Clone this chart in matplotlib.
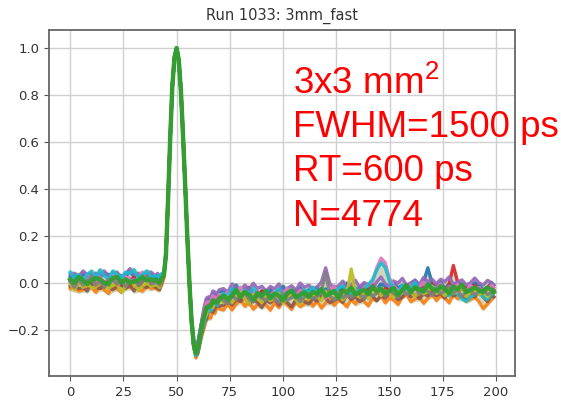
import matplotlib
matplotlib.use('Agg')
import matplotlib.pyplot as plt
import numpy as np

plt.rcParams['mathtext.fontset'] = 'custom'
plt.rcParams['mathtext.rm'] = 'Liberation Sans'

# sample index (coarser outside the pulse)
t = list(range(0, 41, 2)) + list(range(41, 71)) + list(range(72, 199, 2)) + [199]

# average normalised waveform
mean_wave = (
    [0.005, 0.0, 0.005, 0.0, 0.005, 0.01, 0.0, 0.005, 0.0, 0.005, 0.01,
     0.005, 0.0, 0.005, 0.01, 0.005, 0.0, 0.005, 0.01, 0.005, 0.0]
    + [0.0, 0.0, 0.01, 0.03, 0.12, 0.36, 0.62, 0.84, 0.96, 1.0,
       0.95, 0.82, 0.63, 0.42, 0.20, 0.0, -0.16, -0.26, -0.30, -0.28,
       -0.23, -0.18, -0.14, -0.115, -0.10, -0.09, -0.085, -0.08, -0.075, -0.07]
    + [-0.065, -0.06, -0.055, -0.05, -0.05, -0.05, -0.05, -0.052, -0.054, -0.055,
       -0.055, -0.056, -0.056, -0.055, -0.055, -0.054, -0.053, -0.052, -0.051, -0.05,
       -0.05, -0.049, -0.048, -0.047, -0.046, -0.045, -0.045, -0.044, -0.043, -0.042,
       -0.041, -0.04, -0.04, -0.039, -0.038, -0.037, -0.036, -0.035, -0.035, -0.034,
       -0.033, -0.032, -0.031, -0.03, -0.03, -0.029, -0.028, -0.027, -0.026, -0.025,
       -0.025, -0.025, -0.025, -0.025, -0.026, -0.027, -0.028, -0.029, -0.03, -0.03,
       -0.03, -0.03, -0.03, -0.03, -0.03]
)

# per-trace deviation from the mean, in units of 0.01
dev_blue = ([2, 3, 1, 4, 2, 3, 1, 2, 4, 3, 2, 1, 3, 2, 4, 2, 3, 1, 2, 3, 2]
            + [2, 1, 2, 1, 0, 0, -1, 0, 0, 0, 0, 1, 0, 0, 0, 1, 1, 2, 2, 3, 3, 2, 3, 4, 3, 2, 4, 3, 2, 3]
            + [3, 1, 2, 4, 0, 2, 3, 1, -1, 2, 1, 3, 0, 2, 4, 1, -1, 2, 3, 0,
               2, 1, 3, -1, 2, 0, 3, 1, 2, 4, 1, -1, 2, 3, 0, 2, 1, 3, 2, 0,
               3, 1, 2, -1, 2, 4, 1, 3, 9, 2, 1, 3, 0, 2, 1, 3, 2, 0, 1, 3, 2, 0, 1, 3, 2])
dev_orange = ([-3, -2, -4, -3, -1, -3, -4, -2, -3, -5, -2, -3, -4, -2, -3, -1, -3, -4, -2, -3, -2]
              + [-3, -2, -2, -1, 1, 2, 1, 1, 0, 0, 0, -1, -1, 0, 0, 0, -1, -1, -2, -2, -3, -4, -5, -4, -5, -6, -4, -5, -3, -4]
              + [-5, -3, -6, -4, -2, -5, -3, -6, -4, -2, -4, -6, -3, -5, -2, -4, -6, -3, -5, -4,
                 -2, -5, -3, -6, -4, -2, -5, -3, -4, -6, -3, -5, -2, -4, -6, -3, -4, -2, -5, -3,
                 -4, -6, -3, -2, -5, -4, -3, -6, -4, -2, -5, -3, -4, -6, -2, -4, -3, -5, -4, -3, -5, -8, -6, -4, -3])
dev_red = ([0, 1, -1, 2, 0, -2, 1, 0, -1, 1, 2, 0, -1, 1, 0, 2, -1, 0, 1, -1, 0]
           + [0, 1, 0, 0, 0, 1, 0, 0, 0, 0, 0, 0, 1, 0, 0, 0, 0, 0, 1, 0, 1, 2, 1, 0, 2, 1, 0, 2, 1, 0]
           + [1, -1, 2, 0, -2, 1, 3, -1, 0, 2, -1, 1, 0, 2, -2, 0, 1, -1, 2, 0,
              1, -2, 0, 2, -1, 1, 0, -1, 2, 1, -1, 0, 2, -1, 1, 3, 0, -2, 1, 0,
              2, -1, 0, 1, -2, 2, 0, 1, -1, 2, 0, 1, -1, 2, 10, 3, 0, 1, -1, 2, 0, -1, 1, 2, 0])
dev_purple = ([3, 4, 2, 5, 3, 2, 4, 3, 5, 2, 3, 4, 2, 3, 5, 3, 4, 2, 3, 4, 3]
              + [4, 3, 2, 1, 0, 0, 0, 0, 0, 0, 0, 0, 0, 0, 0, 1, 0, 1, 1, 2, 2, 3, 4, 5, 4, 3, 5, 4, 3, 4]
              + [4, 2, 5, 3, 1, 4, 2, 5, 3, 4, 2, 4, 3, 5, 1, 3, 4, 2, 5, 3,
                 4, 2, 3, 5, 11, 4, 2, 3, 5, 2, 3, 5, 2, 4, 3, 1, 4, 6, 3, 2,
                 4, 3, 5, 2, 3, 4, 2, 5, 3, 4, 2, 4, 3, 5, 2, 3, 4, 2, 3, 5, 3, 2, 4, 3, 2])
dev_brown = ([-2, -1, -3, -2, -4, -1, -2, -3, -1, -2, -4, -2, -1, -3, -2, -4, -1, -2, -3, -1, -2]
             + [-2, -3, -1, 0, 0, -1, 0, 0, 0, 0, 0, 0, -1, 0, 0, 0, 0, -1, -1, -2, -2, -3, -3, -4, -2, -3, -4, -3, -2, -3]
             + [-3, -1, -4, -2, -3, -1, -4, -2, -3, -5, -2, -3, -1, -4, -2, -3, -5, -2, -1, -3,
                -4, -2, -3, -1, -2, -4, -3, -2, -4, -1, -3, -2, -4, -3, -1, -2, -4, -2, -3, -1,
                -2, -4, -3, -1, -3, -2, -4, -2, -3, -1, -3, -2, -4, -1, -3, -2, -3, -4, -2, -3, -1, -3, -5, -2, -3])
dev_pink = ([1, -1, 2, 0, 3, 1, -1, 2, 0, 1, 3, -1, 0, 2, 1, -1, 2, 4, 0, 1, 0]
            + [1, 0, 1, 0, 0, 0, 0, 0, 0, 0, 0, 0, 0, 1, 0, 0, 0, 1, 0, 1, 2, 1, 2, 3, 2, 1, 3, 2, 1, 2]
            + [0, 2, -1, 1, 3, 0, -2, 1, 2, -1, 1, 0, 2, -1, 1, 3, 0, -1, 2, 1,
               -1, 2, 0, 1, -2, 1, 3, 0, -1, 2, 0, 1, -1, 2, 3, 4, 10, 14, 12, 5,
               2, 0, 1, -1, 2, 0, 1, 3, -1, 1, 0, 2, -1, 1, 0, 2, 1, -1, 2, 0, 1, -1, 0, 2, 1])
dev_cyan = ([4, 2, 3, 1, 3, 4, 2, 5, 3, 1, 4, 3, 2, 4, 3, 5, 2, 3, 4, 2, 3]
            + [3, 2, 3, 1, 0, 0, -1, 0, 0, 0, 0, 0, 0, 0, 0, 0, -1, -1, -1, -1, -2, -2, -3, -2, -1, -3, -2, -1, -2, -1]
            + [2, 0, 3, 1, -1, 2, 0, 3, 1, -1, 2, 0, 1, 3, -1, 1, 2, 0, -1, 2,
               1, 3, 0, 2, -1, 1, 0, 2, 3, 1, -1, 2, 0, 1, 3, 5, 9, 12, 10, 4,
               1, -1, 2, 0, 1, 3, 0, -1, 2, 1, 0, -1, -2, -3, -1, -2, -4, -5, -3, -2, -1, -3, -4, -2, -1])
dev_olive = ([-1, -3, 0, -2, -1, -3, -2, 0, -1, -3, -2, -1, -4, -2, 0, -1, -3, -2, -1, -2, -1]
             + [-1, -2, 0, 1, 2, 2, 1, 1, 0, 0, 0, 1, 1, 1, 0, 0, 0, 0, 0, 0, -1, 0, -1, -2, 0, -1, -2, 0, -1, 0]
             + [-2, 0, -3, -1, 1, -2, -4, 0, -1, -3, 0, -2, -1, 1, -3, -1, 0, -2, -4, -1,
                -2, 0, -1, -3, 1, -1, -2, 0, -3, -1, 10, -1, -2, 0, -3, -1, 1, -2, 0, -1,
                -3, -1, 0, -2, -1, -3, 0, -2, -1, 1, -2, -1, -3, 0, -2, -1, 1, -3, -1, 0, -2, -1, -3, 0, -1])
dev_gray = ([0, -2, 1, -1, 0, 2, -1, 0, -2, 1, 0, -1, 1, -2, 0, 1, -1, 0, 2, -1, 0]
            + [0, -1, 0, 0, 0, 0, 0, 0, 0, 0, 0, 0, 0, 0, 0, 0, 0, 0, 0, 1, 0, -1, 0, 1, -1, 0, 1, -1, 0, 1]
            + [-1, -3, 0, -2, -1, 1, -2, -3, 0, -1, -2, 0, -1, -3, 1, -2, -1, 0, -3, -1,
               0, -2, -1, 1, 9, -1, -3, 0, -2, -1, -2, 0, -1, -3, 0, -2, -1, 1, -2, 0,
               -1, -3, 0, -2, -1, 1, -2, 0, -1, -3, 0, -2, -1, 1, -2, 0, -3, -1, 0, -2, -1, 0, -2, -1, 0])
dev_green = ([1, 0, 2, 1, -1, 0, 2, 1, 0, -1, 1, 2, 0, 1, -1, 0, 1, 2, 0, 1, 1]
             + [1, 0, 1, 0, 0, 0, 0, 0, 0, 0, 0, 0, 0, 0, 0, 0, 0, 0, 0, 0, 0, 1, 0, 1, 0, -1, 1, 0, -1, 0]
             + [1, -1, 0, 2, -1, 1, 0, -2, 1, 0, 2, -1, 1, 0, -2, 1, 2, -1, 0, 1,
                -1, 1, 0, 2, -1, 0, 1, -2, 1, 0, 2, -1, 0, 1, -1, 2, 0, 1, -1, 0,
                1, -2, 0, 2, -1, 1, 0, -1, 2, 0, -1, 1, 0, -2, 1, 0, 2, -1, 0, 1, 0, -1, 1, 0, -1])

traces = [
    (dev_blue, '#1f77b4'), (dev_orange, '#ff7f0e'), (dev_red, '#d62728'),
    (dev_purple, '#9467bd'), (dev_brown, '#8c564b'), (dev_pink, '#e377c2'),
    (dev_cyan, '#17becf'), (dev_olive, '#bcbd22'), (dev_gray, '#7f7f7f'),
    (dev_green, '#2ca02c'),
]

title = 'Run 1033: 3mm_fast'
info_lines = ['3x3 mm$^2$', 'FWHM=1500 ps', 'RT=600 ps', 'N=4774']

W, H = 561, 404
fig = plt.figure(figsize=(W / 100, H / 100), dpi=100)
ax = fig.add_axes([49 / W, 1 - 376 / H, (515 - 49) / W, (376 - 30) / H])

mean_arr = np.array(mean_wave)
ys = [mean_arr + np.array(dev) / 100.0 for dev, _ in traces]
# soft fill of the spread so the band reads as dense as the overlay of many pulses
ax.fill_between(t, np.min(ys, axis=0) - 0.01, np.max(ys, axis=0) + 0.01,
                color='#9aa86e', alpha=0.45, lw=0)
for y, (dev, col) in zip(ys, traces):
    lw = 3.2 if col == '#2ca02c' else 2.4
    ax.plot(t, y, color=col, lw=lw, alpha=0.9, solid_joinstyle='round')

ax.grid(True, color='#d0d0d0', lw=1.0)
ax.set_axisbelow(True)
ax.set_xticks([0, 25, 50, 75, 100, 125, 150, 175, 200])
ax.set_yticks([-0.2, 0.0, 0.2, 0.4, 0.6, 0.8, 1.0])
ax.tick_params(labelsize=9.5, colors='#555', labelcolor='#333')
for s in ax.spines.values():
    s.set_color('#666')
    s.set_linewidth(1.3)
ax.set_title(title, fontsize=10.5, color='#333', pad=7)

baselines = [94, 137, 181, 226]
for txt, yb in zip(info_lines, baselines):
    fig.text(293 / W, 1 - yb / H, txt, color='red', fontsize=26.5,
             family='Liberation Sans', va='baseline', ha='left')

fig.savefig('out.png', dpi=100)
